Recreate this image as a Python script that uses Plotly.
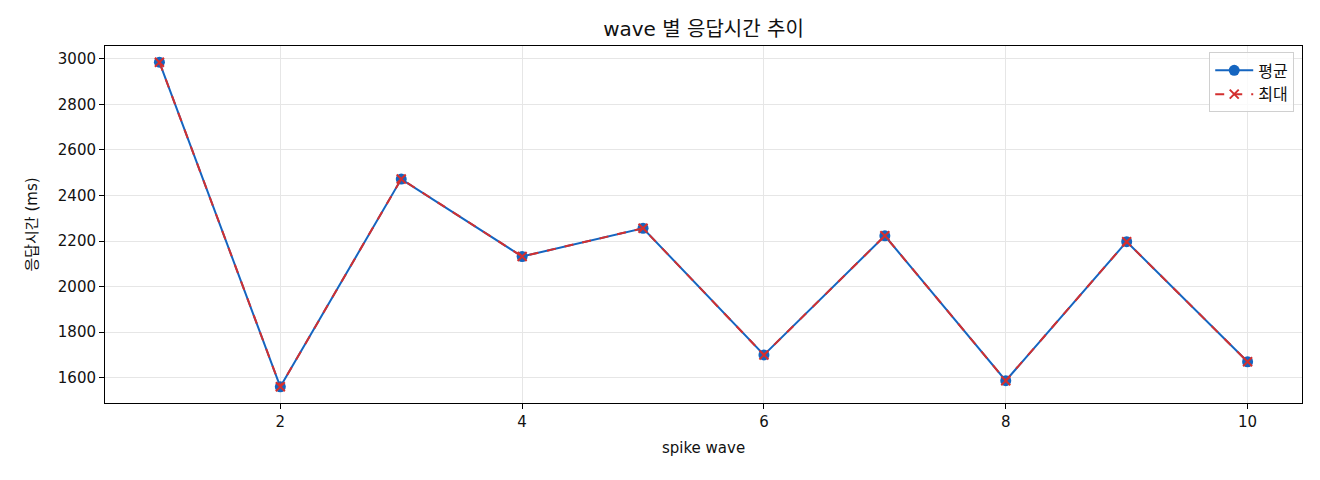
import plotly.graph_objects as go

# wave 별 응답시간
waves = [1, 2, 3, 4, 5, 6, 7, 8, 9, 10]
avg_ms = [2985, 1560, 2472, 2132, 2256, 1700, 2223, 1587, 2197, 1670]
max_ms = [2985, 1560, 2472, 2132, 2256, 1700, 2223, 1587, 2197, 1670]

FONT = "DejaVu Sans, Noto Sans CJK KR"

fig = go.Figure()

fig.add_trace(go.Scatter(
    x=waves, y=avg_ms, name="평균", mode="lines+markers",
    line=dict(color="#1565c0", width=2),
    marker=dict(symbol="circle", size=11, color="#1565c0"),
))
fig.add_trace(go.Scatter(
    x=waves, y=max_ms, name="최대", mode="lines+markers",
    line=dict(color="#d32f2f", width=2, dash="dash"),
    marker=dict(symbol="x-thin", size=9, line=dict(color="#d32f2f", width=2)),
))

axis_style = dict(
    showline=True, linecolor="black", linewidth=1, mirror=True,
    ticks="outside", ticklen=5, tickcolor="black",
    showgrid=True, gridcolor="#e6e6e6", gridwidth=1,
    zeroline=False, tickfont=dict(size=15, color="#111"),
)

# page body has an 8px margin, so margins are shifted to compensate
fig.update_layout(
    width=1320, height=480,
    paper_bgcolor="white", plot_bgcolor="white",
    font=dict(family=FONT, color="#111"),
    margin=dict(l=97, r=26, t=38, b=85),
    title=dict(text="wave 별 응답시간 추이", xref="paper", x=0.5, xanchor="center",
               y=0.956, yanchor="middle", font=dict(size=20)),
    xaxis=dict(axis_style, range=[0.55, 10.45], tickvals=[2, 4, 6, 8, 10],
               title=dict(text="spike wave", font=dict(size=15), standoff=12)),
    yaxis=dict(axis_style, range=[1489, 3056], dtick=200,
               title=dict(text="응답시간 (ms)", font=dict(size=15), standoff=16)),
    legend=dict(x=0.9935, y=0.982, xanchor="right", yanchor="top",
                bgcolor="rgba(255,255,255,0.8)", bordercolor="#d0d0d0",
                borderwidth=1, font=dict(size=16), itemwidth=38,
                tracegroupgap=6),
    showlegend=True,
)

fig.write_html("out.html")
